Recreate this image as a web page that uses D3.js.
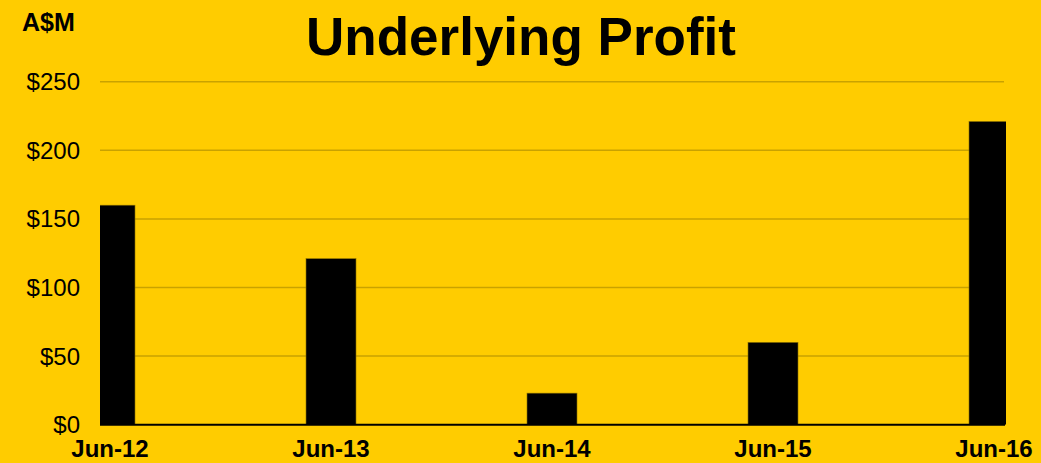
<!DOCTYPE html>
<html>
<head>
    <title>Underlying Profit</title>
    <script src="https://d3js.org/d3.v7.min.js"></script>
    <style>
        html, body { margin: 0; padding: 0; background: #FFCC00; }
        svg { display: block; font-family: "Liberation Sans", Arial, sans-serif; }
    </style>
</head>
<body>
<svg id="chart" width="1041" height="463"></svg>
<script>
    // data
    const periods = ["Jun-12", "Jun-13", "Jun-14", "Jun-15", "Jun-16"];
    const profit = [160, 121, 23, 60, 221];
    const yTicks = [0, 50, 100, 150, 200, 250];

    const width = 1041, height = 463;
    const plot = { left: 100, right: 1005, top: 81.7, bottom: 424.7 };
    const barWidth = 50;

    const svg = d3.select("#chart");

    svg.append("rect")
        .attr("width", width)
        .attr("height", height)
        .attr("fill", "#FFCC00");

    const x = d3.scalePoint()
        .domain(periods)
        .range([110, 994]);

    const y = d3.scaleLinear()
        .domain([0, 250])
        .range([plot.bottom, plot.top]);

    // gridlines
    svg.append("g")
        .selectAll("line")
        .data(yTicks.filter(d => d > 0))
        .enter().append("line")
        .attr("x1", plot.left)
        .attr("x2", plot.right - 1)
        .attr("y1", d => y(d))
        .attr("y2", d => y(d))
        .attr("stroke", "#C9A200")
        .attr("stroke-width", 1.5);

    // y labels
    svg.append("g")
        .selectAll("text")
        .data(yTicks)
        .enter().append("text")
        .attr("x", 80)
        .attr("y", d => y(d))
        .attr("dy", "0.35em")
        .attr("text-anchor", "end")
        .attr("font-size", "24px")
        .attr("fill", "#000")
        .text(d => "$" + d);

    // bars, clipped to the plot area like the original
    svg.append("clipPath")
        .attr("id", "plot-clip")
        .append("rect")
        .attr("x", plot.left)
        .attr("y", 0)
        .attr("width", plot.right - plot.left + 1)
        .attr("height", height);

    svg.append("g")
        .attr("clip-path", "url(#plot-clip)")
        .selectAll("rect")
        .data(periods)
        .enter().append("rect")
        .attr("x", (d, i) => x(d) - barWidth / 2)
        .attr("y", (d, i) => y(profit[i]))
        .attr("width", barWidth)
        .attr("height", (d, i) => y(0) - y(profit[i]))
        .attr("fill", "#000")
        .attr("stroke", "#8a7000")
        .attr("stroke-width", 0.6);

    // axis line
    svg.append("line")
        .attr("x1", plot.left)
        .attr("x2", plot.right)
        .attr("y1", y(0))
        .attr("y2", y(0))
        .attr("stroke", "#000")
        .attr("stroke-width", 2);

    // x labels
    svg.append("g")
        .selectAll("text")
        .data(periods)
        .enter().append("text")
        .attr("x", d => x(d))
        .attr("y", 457)
        .attr("text-anchor", "middle")
        .attr("font-size", "24px")
        .attr("font-weight", "bold")
        .attr("fill", "#000")
        .text(d => d);

    // title and unit
    svg.append("text")
        .attr("x", 521)
        .attr("y", 55)
        .attr("text-anchor", "middle")
        .attr("font-size", "53px")
        .attr("font-weight", "bold")
        .attr("fill", "#000")
        .text("Underlying Profit");

    svg.append("text")
        .attr("x", 22)
        .attr("y", 31)
        .attr("font-size", "25px")
        .attr("font-weight", "bold")
        .attr("fill", "#000")
        .text("A$M");
</script>
</body>
</html>
